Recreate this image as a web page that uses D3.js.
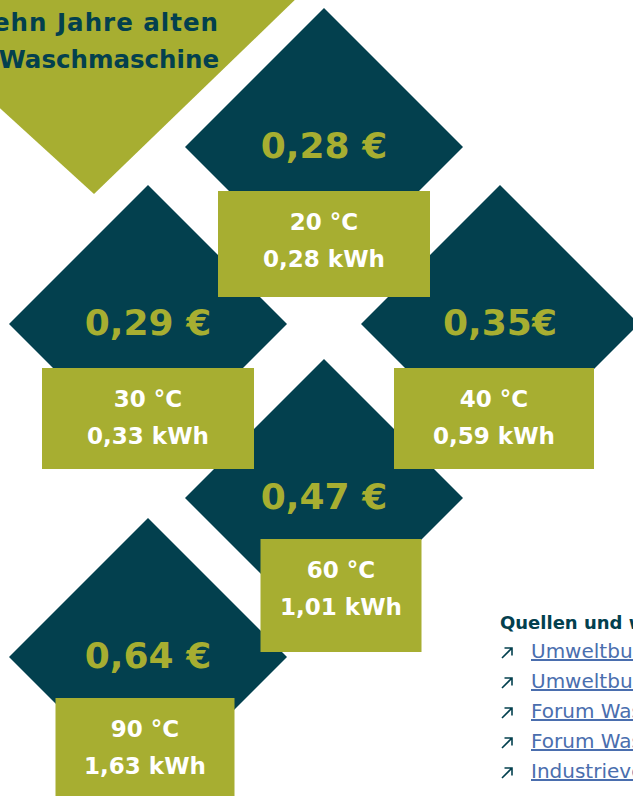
<!DOCTYPE html>
<meta charset="utf-8">
<script src="https://d3js.org/d3.v7.min.js"></script>
<head>
  <style>
    body { margin: 0; background: #fff; }
    svg { display: block; }
  </style>
</head>
<body>
<div id="chart"></div>
<script>

  // data: temperature, energy per cycle, cost per cycle
  var temps = [20, 30, 40, 60, 90]
  var kwh = [0.28, 0.33, 0.59, 1.01, 1.63]
  var prices = [0.28, 0.29, 0.35, 0.47, 0.64]
  var priceLabels = ["0,28 €", "0,29 €", "0,35€", "0,47 €", "0,64 €"]

  var titleLines = ["Kosten pro Waschgang mit einer", "zehn Jahre alten", "Waschmaschine"]
  var sources = ["Umweltbundesamt", "Umweltbundesamt", "Forum Waschen", "Forum Waschen", "Industrieverband Körperpflege- und Waschmittel"]

  // layout of the tiles (grid cells, box sizes)
  var cols = [1, 0, 2, 1, 0]
  var rows = [0, 1, 1, 2, 3]
  var boxW = [212, 212, 200, 161, 179]
  var boxH = [106, 101, 101, 113, 106]
  var boxDx = [0, 0, -6, 17, -3]
  var boxDy = [44, 44, 44, 41, 41]

  var width = 633, height = 796
  var teal = "#03404e", olive = "#a7ae31", link = "#4a6eae"
  var r = 139

  var x = d3.scaleLinear().domain([0, 2]).range([148, 500])
  var y = d3.scaleLinear().domain([0, 1, 2, 3]).range([147, 324, 498, 657])

  var fmt = function(v) { return d3.format(".2f")(v).replace(".", ",") }

  var svg = d3.select("#chart").append("svg")
    .attr("width", width)
    .attr("height", height)
    .style("font-family", "'DejaVu Sans', sans-serif")

  // header triangle in the top left
  svg.append("path")
    .attr("d", "M-10,99 L94,194 L302,-7 L-10,-7 Z")
    .attr("fill", olive)

  svg.append("g").selectAll("text")
    .data(titleLines)
    .enter().append("text")
    .attr("x", 219)
    .attr("y", function(d, i) { return -6 + i * 37 })
    .attr("text-anchor", "end")
    .attr("font-size", 24.5)
    .attr("font-weight", "bold")
    .attr("letter-spacing", function(d, i) { return i == 2 ? 0 : 1 })
    .attr("fill", teal)
    .text(function(d) { return d })

  var idx = d3.range(temps.length)

  // diamonds
  svg.append("g").selectAll("path")
    .data(idx)
    .enter().append("path")
    .attr("d", function(i) {
      var cx = x(cols[i]), cy = y(rows[i])
      return "M" + cx + "," + (cy - r) + "L" + (cx + r) + "," + cy +
             "L" + cx + "," + (cy + r) + "L" + (cx - r) + "," + cy + "Z"
    })
    .attr("fill", teal)

  svg.append("g").selectAll("text")
    .data(idx)
    .enter().append("text")
    .attr("x", function(i) { return x(cols[i]) })
    .attr("y", function(i) { return y(rows[i]) + 11 })
    .attr("text-anchor", "middle")
    .attr("font-size", 36)
    .attr("font-weight", "bold")
    .attr("fill", olive)
    .text(function(i) { return priceLabels[i] })

  // boxes on top
  var box = svg.append("g").selectAll("g")
    .data(idx)
    .enter().append("g")
    .attr("transform", function(i) {
      return "translate(" + (x(cols[i]) + boxDx[i] - boxW[i] / 2) + "," + (y(rows[i]) + boxDy[i]) + ")"
    })

  box.append("rect")
    .attr("width", function(i) { return boxW[i] })
    .attr("height", function(i) { return boxH[i] })
    .attr("fill", olive)

  box.append("text")
    .attr("x", function(i) { return boxW[i] / 2 })
    .attr("y", 39)
    .attr("text-anchor", "middle")
    .attr("font-size", 23)
    .attr("font-weight", "bold")
    .attr("fill", "#fff")
    .text(function(i) { return temps[i] + " °C" })

  box.append("text")
    .attr("x", function(i) { return boxW[i] / 2 })
    .attr("y", 76)
    .attr("text-anchor", "middle")
    .attr("font-size", 23)
    .attr("font-weight", "bold")
    .attr("fill", "#fff")
    .text(function(i) { return fmt(kwh[i]) + " kWh" })

  // sources
  var src = svg.append("g").attr("transform", "translate(500,0)")

  src.append("text")
    .attr("x", 0)
    .attr("y", 629)
    .attr("font-size", 18)
    .attr("font-weight", "bold")
    .attr("fill", teal)
    .text("Quellen und weiterführende Links")

  // thin arrows
  src.selectAll("path.arrow")
    .data(sources)
    .enter().append("path")
    .attr("class", "arrow")
    .attr("transform", function(d, i) { return "translate(2," + (658 + i * 30) + ")" })
    .attr("d", "M0,0 L10,-10 M2.5,-10 L10,-10 L10,-2.5")
    .attr("fill", "none")
    .attr("stroke", teal)
    .attr("stroke-width", 1.6)

  src.selectAll("text.link")
    .data(sources)
    .enter().append("text")
    .attr("class", "link")
    .attr("x", 31)
    .attr("y", function(d, i) { return 658 + i * 30 })
    .attr("font-size", 20)
    .attr("fill", link)
    .style("text-decoration", "underline")
    .text(function(d) { return d })

</script>
</body>
